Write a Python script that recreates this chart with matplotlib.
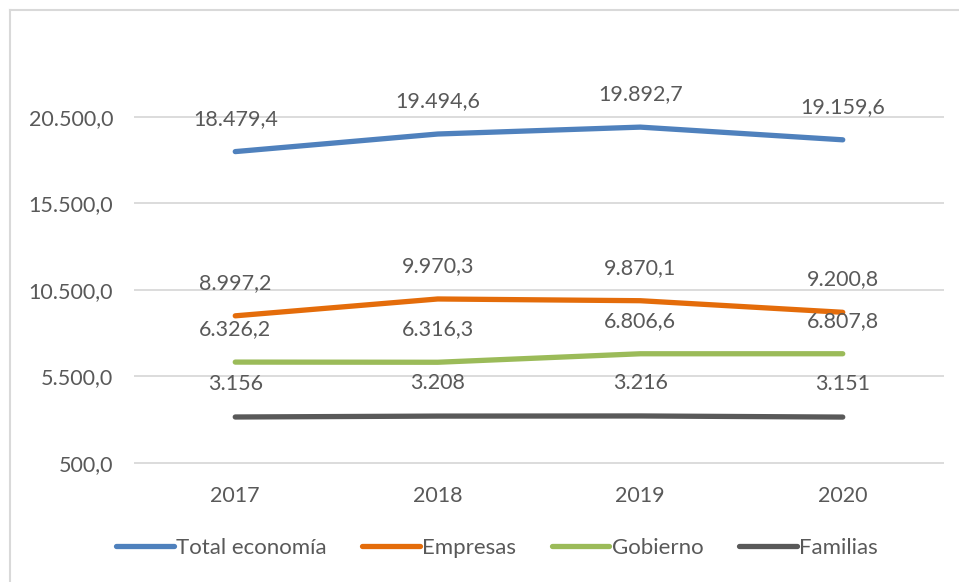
import matplotlib.pyplot as plt
from matplotlib.lines import Line2D

years = ["2017", "2018", "2019", "2020"]
total = [18479.4, 19494.6, 19892.7, 19159.6]
empresas = [8997.2, 9970.3, 9870.1, 9200.8]
gobierno = [6326.2, 6316.3, 6806.6, 6807.8]
familias = [3156, 3208, 3216, 3151]

series_names = ["Total economía", "Empresas", "Gobierno", "Familias"]
colors = ["#4F81BD", "#E46C0A", "#9BBB59", "#595959"]
decimals = [1, 1, 1, 0]
yticks = [500, 5500, 10500, 15500, 20500]

text_color = "#595959"
plt.rcParams["font.family"] = ["Lato", "DejaVu Sans"]


def fmt_es(v, nd):
    s = f"{v:,.{nd}f}"
    return s.replace(",", "X").replace(".", ",").replace("X", ".")


fig = plt.figure(figsize=(9.59, 5.82), dpi=100)
W, H = 959, 582
# plot area in pixel terms
left, right, top_px, bottom_px = 134, 944, 30, 500
ax = fig.add_axes([left / W, 1 - bottom_px / H, (right - left) / W, (bottom_px - top_px) / H])

x = range(len(years))
for vals, name, col, nd in zip([total, empresas, gobierno, familias], series_names, colors, decimals):
    ax.plot(x, vals, color=col, lw=3.8, solid_capstyle="round", solid_joinstyle="round", zorder=3)
    for xi, v in zip(x, vals):
        ax.annotate(fmt_es(v, nd), (xi, v), xytext=(0, 33), textcoords="offset pixels",
                    ha="center", va="center", fontsize=15.5, color=text_color, zorder=4)

ax.set_xlim(-0.5, len(years) - 0.5)
# 5000 units ~ 86.6 px
ymin = 500 - (bottom_px - 463) / 86.6 * 5000
ymax = 500 + (463 - top_px) / 86.6 * 5000
ax.set_ylim(ymin, ymax)
ax.set_yticks(yticks)
ax.set_yticklabels([fmt_es(v, 1) for v in yticks])
ax.set_xticks(list(x))
ax.set_xticklabels(years)
ax.yaxis.grid(True, color="#D9D9D9", lw=1.3)
ax.set_axisbelow(True)
for s in ax.spines.values():
    s.set_visible(False)
ax.tick_params(length=0, labelsize=15.5, labelcolor=text_color)
ax.tick_params(axis="y", pad=15)
ax.tick_params(axis="x", pad=-10)

handles = [Line2D([], [], color=c, lw=3.8, solid_capstyle="round") for c in colors]
fig.legend(handles, series_names, loc="center", bbox_to_anchor=(0.518, 1 - 548 / H), ncol=4,
           frameon=False, fontsize=16, labelcolor=text_color, handlelength=2.6,
           handletextpad=0.1, columnspacing=1.6)

# chart frame: top and left edges
fig.add_artist(Line2D([10 / W, 1], [1 - 10 / H, 1 - 10 / H], color="#D9D9D9", lw=1.5))
fig.add_artist(Line2D([10 / W, 10 / W], [0, 1 - 10 / H], color="#D9D9D9", lw=1.5))

fig.savefig("out.png", dpi=100)
